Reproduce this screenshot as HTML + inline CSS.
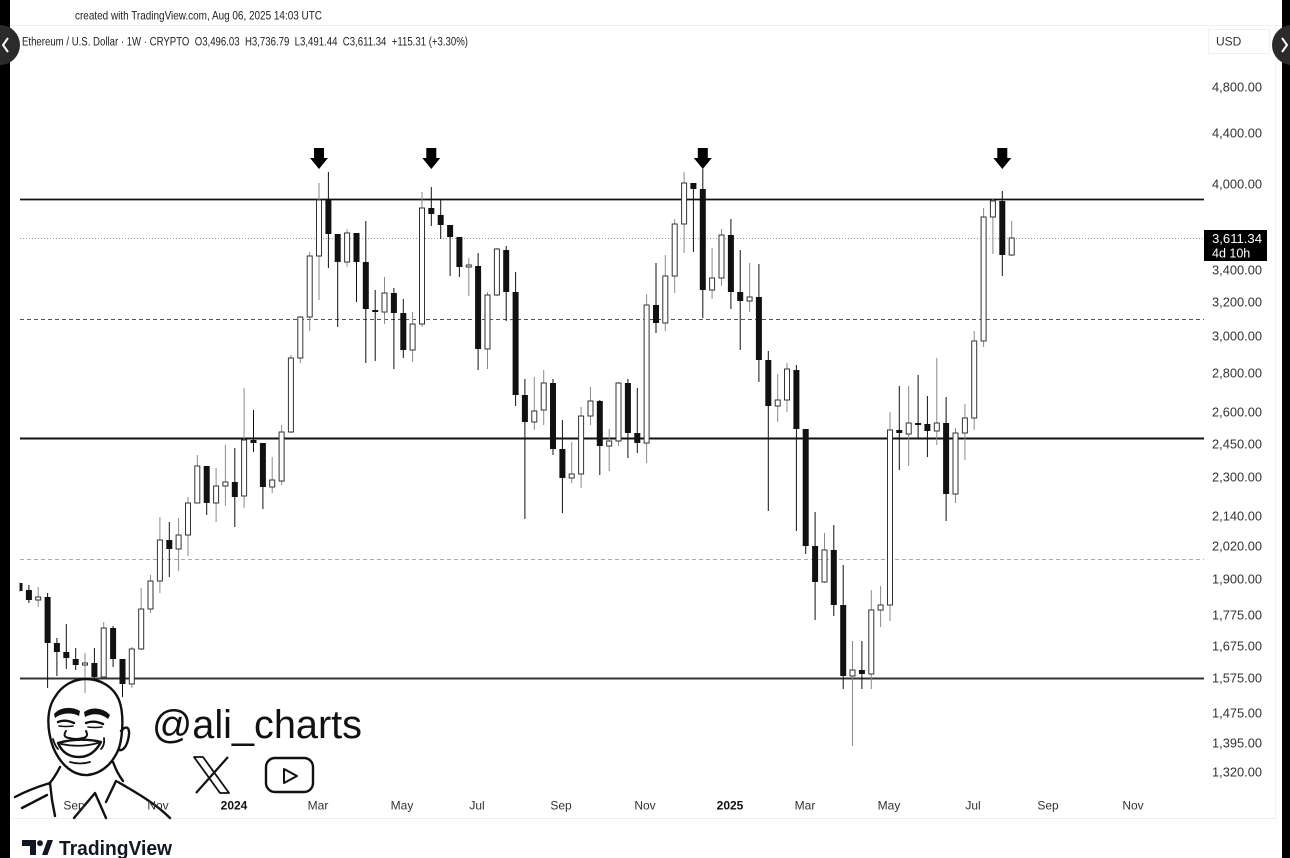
<!DOCTYPE html>
<html><head><meta charset="utf-8"><style>
html,body{margin:0;padding:0;background:#000;}
svg{display:block;}
.t{font-family:"Liberation Sans",Arial,sans-serif;}
.u line{stroke:#8a8a8a;stroke-width:1;}
.d line{stroke:#111;stroke-width:1;}
.u rect{fill:#fff;stroke:#333;stroke-width:1;}
.d rect{fill:#111;}
.f{stroke:#111;stroke-width:2.4;fill:none;stroke-linecap:round;stroke-linejoin:round;}
</style></head><body>
<svg width="1290" height="858" viewBox="0 0 1290 858" xmlns="http://www.w3.org/2000/svg">
<rect x="0" y="0" width="1290" height="858" fill="#000"/>
<rect x="10" y="0" width="1272" height="858" fill="#fff"/>
<line x1="10" y1="25.5" x2="1282" y2="25.5" stroke="#f0f0f0" stroke-width="1"/>
<line x1="10" y1="818.5" x2="1276" y2="818.5" stroke="#f0f0f0" stroke-width="1"/>
<line x1="1275.5" y1="26" x2="1275.5" y2="818" stroke="#f3f3f3" stroke-width="1"/>
<!-- nav circles -->
<circle cx="0" cy="45" r="20" fill="#2b2b2b"/>
<path d="M8 38 L3 45 L8 52" stroke="#fff" stroke-width="2" fill="none"/>
<circle cx="1292" cy="45" r="20" fill="#2b2b2b"/>
<path d="M1282 38 L1287 45 L1282 52" stroke="#fff" stroke-width="2" fill="none"/>

<text class="t" x="75" y="19.5" font-size="12" fill="#222" textLength="247" lengthAdjust="spacingAndGlyphs">created with TradingView.com, Aug 06, 2025 14:03 UTC</text>
<text class="t" x="22" y="45.5" font-size="11.5" fill="#222" textLength="446" lengthAdjust="spacingAndGlyphs" xml:space="preserve">Ethereum / U.S. Dollar · 1W · CRYPTO  O3,496.03  H3,736.79  L3,491.44  C3,611.34  +115.31 (+3.30%)</text>

<rect x="1208.5" y="29.5" width="61" height="24" fill="#fff" stroke="#f0f0f0"/>
<text class="t" x="1216" y="45.5" font-size="12" fill="#333">USD</text>

<!-- horizontal levels -->
<line x1="20" y1="199.5" x2="1204" y2="199.5" stroke="#111" stroke-width="1.8"/>
<line x1="20" y1="238.5" x2="1204" y2="238.5" stroke="#999" stroke-width="1" stroke-dasharray="1 2"/>
<line x1="20" y1="319.5" x2="1204" y2="319.5" stroke="#555" stroke-width="1" stroke-dasharray="4 3"/>
<line x1="20" y1="438.5" x2="1204" y2="438.5" stroke="#111" stroke-width="2"/>
<line x1="20" y1="559.5" x2="1204" y2="559.5" stroke="#aaa" stroke-width="1" stroke-dasharray="4 3"/>
<line x1="20" y1="678.5" x2="1204" y2="678.5" stroke="#333" stroke-width="2"/>

<clipPath id="cp"><rect x="19.7" y="60" width="1185" height="760"/></clipPath>
<g clip-path="url(#cp)">
<g class="d"><line x1="19.5" y1="582" x2="19.5" y2="592"/><rect x="16.5" y="583" width="6" height="8"/></g>
<g class="d"><line x1="28.9" y1="585" x2="28.9" y2="603"/><rect x="25.9" y="590" width="6" height="10"/></g>
<g class="u"><line x1="38.2" y1="587" x2="38.2" y2="607"/><rect x="35.7" y="597" width="5" height="3"/></g>
<g class="d"><line x1="47.6" y1="593" x2="47.6" y2="688"/><rect x="44.6" y="597" width="6" height="46"/></g>
<g class="d"><line x1="56.9" y1="638" x2="56.9" y2="676"/><rect x="53.9" y="643" width="6" height="9"/></g>
<g class="d"><line x1="66.3" y1="624" x2="66.3" y2="669"/><rect x="63.3" y="652" width="6" height="6"/></g>
<g class="d"><line x1="75.7" y1="648" x2="75.7" y2="670"/><rect x="72.7" y="659" width="6" height="6"/></g>
<g class="u"><line x1="85.0" y1="653" x2="85.0" y2="693"/><rect x="82.5" y="663" width="5" height="2"/></g>
<g class="d"><line x1="94.4" y1="648" x2="94.4" y2="678"/><rect x="91.4" y="663" width="6" height="14"/></g>
<g class="u"><line x1="103.7" y1="622" x2="103.7" y2="678"/><rect x="101.2" y="628" width="5" height="49"/></g>
<g class="d"><line x1="113.1" y1="626" x2="113.1" y2="667"/><rect x="110.1" y="628" width="6" height="31"/></g>
<g class="d"><line x1="122.5" y1="659" x2="122.5" y2="697"/><rect x="119.5" y="659" width="6" height="25"/></g>
<g class="u"><line x1="131.8" y1="647" x2="131.8" y2="688"/><rect x="129.3" y="649" width="5" height="35"/></g>
<g class="u"><line x1="141.2" y1="588" x2="141.2" y2="650"/><rect x="138.7" y="609" width="5" height="40"/></g>
<g class="u"><line x1="150.5" y1="575" x2="150.5" y2="613"/><rect x="148" y="581" width="5" height="28"/></g>
<g class="u"><line x1="159.9" y1="517" x2="159.9" y2="593"/><rect x="157.4" y="540" width="5" height="41"/></g>
<g class="d"><line x1="169.3" y1="522" x2="169.3" y2="577"/><rect x="166.3" y="540" width="6" height="9"/></g>
<g class="u"><line x1="178.6" y1="518" x2="178.6" y2="571"/><rect x="176.1" y="535" width="5" height="14"/></g>
<g class="u"><line x1="188.0" y1="497" x2="188.0" y2="556"/><rect x="185.5" y="503" width="5" height="32"/></g>
<g class="u"><line x1="197.3" y1="455" x2="197.3" y2="503"/><rect x="194.8" y="466" width="5" height="37"/></g>
<g class="d"><line x1="206.7" y1="466" x2="206.7" y2="515"/><rect x="203.7" y="466" width="6" height="37"/></g>
<g class="u"><line x1="216.1" y1="468" x2="216.1" y2="522"/><rect x="213.6" y="486" width="5" height="17"/></g>
<g class="u"><line x1="225.4" y1="445" x2="225.4" y2="506"/><rect x="222.9" y="482" width="5" height="4"/></g>
<g class="d"><line x1="234.8" y1="448" x2="234.8" y2="527"/><rect x="231.8" y="482" width="6" height="15"/></g>
<g class="u"><line x1="244.1" y1="388" x2="244.1" y2="508"/><rect x="241.6" y="440" width="5" height="56"/></g>
<g class="d"><line x1="253.5" y1="410" x2="253.5" y2="452"/><rect x="250.5" y="440" width="6" height="3"/></g>
<g class="d"><line x1="262.9" y1="443" x2="262.9" y2="509"/><rect x="259.9" y="443" width="6" height="44"/></g>
<g class="u"><line x1="272.2" y1="457" x2="272.2" y2="493"/><rect x="269.7" y="480" width="5" height="7"/></g>
<g class="u"><line x1="281.6" y1="425" x2="281.6" y2="485"/><rect x="279.1" y="432" width="5" height="49"/></g>
<g class="u"><line x1="290.9" y1="355" x2="290.9" y2="433"/><rect x="288.4" y="358" width="5" height="74"/></g>
<g class="u"><line x1="300.3" y1="316" x2="300.3" y2="363"/><rect x="297.8" y="317" width="5" height="41"/></g>
<g class="u"><line x1="309.7" y1="252" x2="309.7" y2="331"/><rect x="307.2" y="256" width="5" height="61"/></g>
<g class="u"><line x1="319.0" y1="183" x2="319.0" y2="300"/><rect x="316.5" y="200" width="5" height="56"/></g>
<g class="d"><line x1="328.4" y1="172" x2="328.4" y2="268"/><rect x="325.4" y="199" width="6" height="35"/></g>
<g class="d"><line x1="337.7" y1="234" x2="337.7" y2="327"/><rect x="334.7" y="234" width="6" height="28"/></g>
<g class="u"><line x1="347.1" y1="229" x2="347.1" y2="267"/><rect x="344.6" y="233" width="5" height="29"/></g>
<g class="d"><line x1="356.5" y1="233" x2="356.5" y2="302"/><rect x="353.5" y="233" width="6" height="29"/></g>
<g class="d"><line x1="365.8" y1="221" x2="365.8" y2="363"/><rect x="362.8" y="262" width="6" height="47"/></g>
<g class="d"><line x1="375.2" y1="290" x2="375.2" y2="361"/><rect x="372.2" y="310" width="6" height="2"/></g>
<g class="u"><line x1="384.5" y1="277" x2="384.5" y2="324"/><rect x="382" y="293" width="5" height="19"/></g>
<g class="d"><line x1="393.9" y1="288" x2="393.9" y2="369"/><rect x="390.9" y="293" width="6" height="20"/></g>
<g class="d"><line x1="403.3" y1="299" x2="403.3" y2="358"/><rect x="400.3" y="313" width="6" height="37"/></g>
<g class="u"><line x1="412.6" y1="312" x2="412.6" y2="362"/><rect x="410.1" y="324" width="5" height="26"/></g>
<g class="u"><line x1="422.0" y1="192" x2="422.0" y2="327"/><rect x="419.5" y="208" width="5" height="116"/></g>
<g class="d"><line x1="431.3" y1="187" x2="431.3" y2="226"/><rect x="428.3" y="208" width="6" height="6"/></g>
<g class="d"><line x1="440.7" y1="200" x2="440.7" y2="239"/><rect x="437.7" y="215" width="6" height="10"/></g>
<g class="d"><line x1="450.1" y1="225" x2="450.1" y2="276"/><rect x="447.1" y="225" width="6" height="12"/></g>
<g class="d"><line x1="459.4" y1="237" x2="459.4" y2="277"/><rect x="456.4" y="237" width="6" height="30"/></g>
<g class="u"><line x1="468.8" y1="258" x2="468.8" y2="296"/><rect x="466.3" y="265" width="5" height="2"/></g>
<g class="d"><line x1="478.1" y1="253" x2="478.1" y2="370"/><rect x="475.1" y="266" width="6" height="83"/></g>
<g class="u"><line x1="487.5" y1="292" x2="487.5" y2="369"/><rect x="485" y="295" width="5" height="54"/></g>
<g class="u"><line x1="496.9" y1="248" x2="496.9" y2="296"/><rect x="494.4" y="249" width="5" height="46"/></g>
<g class="d"><line x1="506.2" y1="246" x2="506.2" y2="321"/><rect x="503.2" y="250" width="6" height="42"/></g>
<g class="d"><line x1="515.6" y1="272" x2="515.6" y2="406"/><rect x="512.6" y="292" width="6" height="103"/></g>
<g class="d"><line x1="524.9" y1="379" x2="524.9" y2="519"/><rect x="521.9" y="395" width="6" height="27"/></g>
<g class="u"><line x1="534.3" y1="377" x2="534.3" y2="430"/><rect x="531.8" y="411" width="5" height="11"/></g>
<g class="u"><line x1="543.7" y1="370" x2="543.7" y2="425"/><rect x="541.2" y="383" width="5" height="27"/></g>
<g class="d"><line x1="553.0" y1="379" x2="553.0" y2="455"/><rect x="550" y="383" width="6" height="66"/></g>
<g class="d"><line x1="562.4" y1="420" x2="562.4" y2="513"/><rect x="559.4" y="449" width="6" height="29"/></g>
<g class="u"><line x1="571.7" y1="442" x2="571.7" y2="483"/><rect x="569.2" y="474" width="5" height="4"/></g>
<g class="u"><line x1="581.1" y1="407" x2="581.1" y2="488"/><rect x="578.6" y="416" width="5" height="58"/></g>
<g class="u"><line x1="590.5" y1="387" x2="590.5" y2="425"/><rect x="588" y="401" width="5" height="15"/></g>
<g class="d"><line x1="599.8" y1="400" x2="599.8" y2="475"/><rect x="596.8" y="401" width="6" height="45"/></g>
<g class="u"><line x1="609.2" y1="429" x2="609.2" y2="471"/><rect x="606.7" y="441" width="5" height="5"/></g>
<g class="u"><line x1="618.5" y1="382" x2="618.5" y2="446"/><rect x="616" y="383" width="5" height="58"/></g>
<g class="d"><line x1="627.9" y1="379" x2="627.9" y2="458"/><rect x="624.9" y="383" width="6" height="50"/></g>
<g class="d"><line x1="637.3" y1="388" x2="637.3" y2="453"/><rect x="634.3" y="433" width="6" height="10"/></g>
<g class="u"><line x1="646.6" y1="294" x2="646.6" y2="463"/><rect x="644.1" y="305" width="5" height="138"/></g>
<g class="d"><line x1="656.0" y1="263" x2="656.0" y2="333"/><rect x="653" y="305" width="6" height="18"/></g>
<g class="u"><line x1="665.3" y1="255" x2="665.3" y2="331"/><rect x="662.8" y="276" width="5" height="47"/></g>
<g class="u"><line x1="674.7" y1="219" x2="674.7" y2="293"/><rect x="672.2" y="224" width="5" height="52"/></g>
<g class="u"><line x1="684.1" y1="172" x2="684.1" y2="253"/><rect x="681.6" y="183" width="5" height="41"/></g>
<g class="d"><line x1="693.4" y1="183" x2="693.4" y2="252"/><rect x="690.4" y="183" width="6" height="6"/></g>
<g class="d"><line x1="702.8" y1="169" x2="702.8" y2="318"/><rect x="699.8" y="189" width="6" height="101"/></g>
<g class="u"><line x1="712.1" y1="248" x2="712.1" y2="299"/><rect x="709.6" y="278" width="5" height="12"/></g>
<g class="u"><line x1="721.5" y1="229" x2="721.5" y2="286"/><rect x="719" y="235" width="5" height="43"/></g>
<g class="d"><line x1="730.9" y1="219" x2="730.9" y2="309"/><rect x="727.9" y="235" width="6" height="57"/></g>
<g class="d"><line x1="740.2" y1="250" x2="740.2" y2="350"/><rect x="737.2" y="292" width="6" height="9"/></g>
<g class="u"><line x1="749.6" y1="263" x2="749.6" y2="312"/><rect x="747.1" y="297" width="5" height="4"/></g>
<g class="d"><line x1="758.9" y1="264" x2="758.9" y2="382"/><rect x="755.9" y="297" width="6" height="63"/></g>
<g class="d"><line x1="768.3" y1="351" x2="768.3" y2="511"/><rect x="765.3" y="360" width="6" height="46"/></g>
<g class="u"><line x1="777.7" y1="374" x2="777.7" y2="422"/><rect x="775.2" y="400" width="5" height="6"/></g>
<g class="u"><line x1="787.0" y1="363" x2="787.0" y2="412"/><rect x="784.5" y="369" width="5" height="31"/></g>
<g class="d"><line x1="796.4" y1="365" x2="796.4" y2="531"/><rect x="793.4" y="370" width="6" height="59"/></g>
<g class="d"><line x1="805.7" y1="429" x2="805.7" y2="554"/><rect x="802.7" y="429" width="6" height="117"/></g>
<g class="d"><line x1="815.1" y1="512" x2="815.1" y2="620"/><rect x="812.1" y="546" width="6" height="36"/></g>
<g class="u"><line x1="824.5" y1="533" x2="824.5" y2="583"/><rect x="822" y="550" width="5" height="32"/></g>
<g class="d"><line x1="833.8" y1="525" x2="833.8" y2="616"/><rect x="830.8" y="550" width="6" height="55"/></g>
<g class="d"><line x1="843.2" y1="565" x2="843.2" y2="689"/><rect x="840.2" y="605" width="6" height="71"/></g>
<g class="u"><line x1="852.5" y1="641" x2="852.5" y2="746"/><rect x="850" y="670" width="5" height="6"/></g>
<g class="d"><line x1="861.9" y1="641" x2="861.9" y2="689"/><rect x="858.9" y="670" width="6" height="4"/></g>
<g class="u"><line x1="871.3" y1="590" x2="871.3" y2="689"/><rect x="868.8" y="610" width="5" height="64"/></g>
<g class="u"><line x1="880.6" y1="586" x2="880.6" y2="627"/><rect x="878.1" y="605" width="5" height="5"/></g>
<g class="u"><line x1="890.0" y1="412" x2="890.0" y2="621"/><rect x="887.5" y="430" width="5" height="175"/></g>
<g class="d"><line x1="899.3" y1="386" x2="899.3" y2="470"/><rect x="896.3" y="430" width="6" height="3"/></g>
<g class="u"><line x1="908.7" y1="386" x2="908.7" y2="466"/><rect x="906.2" y="423" width="5" height="11"/></g>
<g class="d"><line x1="918.1" y1="375" x2="918.1" y2="438"/><rect x="915.1" y="423" width="6" height="2"/></g>
<g class="d"><line x1="927.4" y1="396" x2="927.4" y2="457"/><rect x="924.4" y="424" width="6" height="7"/></g>
<g class="u"><line x1="936.8" y1="358" x2="936.8" y2="445"/><rect x="934.3" y="423" width="5" height="8"/></g>
<g class="d"><line x1="946.1" y1="397" x2="946.1" y2="521"/><rect x="943.1" y="423" width="6" height="71"/></g>
<g class="u"><line x1="955.5" y1="428" x2="955.5" y2="503"/><rect x="953" y="433" width="5" height="61"/></g>
<g class="u"><line x1="964.9" y1="404" x2="964.9" y2="460"/><rect x="962.4" y="418" width="5" height="15"/></g>
<g class="u"><line x1="974.2" y1="331" x2="974.2" y2="430"/><rect x="971.7" y="341" width="5" height="77"/></g>
<g class="u"><line x1="983.6" y1="208" x2="983.6" y2="347"/><rect x="981.1" y="217" width="5" height="124"/></g>
<g class="u"><line x1="992.9" y1="199" x2="992.9" y2="254"/><rect x="990.4" y="201" width="5" height="16"/></g>
<g class="d"><line x1="1002.3" y1="191" x2="1002.3" y2="276"/><rect x="999.3" y="201" width="6" height="54"/></g>
<g class="u"><line x1="1011.7" y1="221" x2="1011.7" y2="256"/><rect x="1009.2" y="238" width="5" height="17"/></g>
</g>

<!-- arrows -->
<g fill="#000">
<path d="M314 148 H324 V158 H328 L319 169 L310 158 H314 Z"/>
<path d="M426.3 148 H436.3 V158 H440.3 L431.3 169 L422.3 158 H426.3 Z"/>
<path d="M697.8 148 H707.8 V158 H711.8 L702.8 169 L693.8 158 H697.8 Z"/>
<path d="M997.3 148 H1007.3 V158 H1011.3 L1002.3 169 L993.3 158 H997.3 Z"/>
</g>

<!-- price axis -->
<g class="t" font-size="12.5" fill="#333">
<text x="1212" y="91.5" textLength="50" lengthAdjust="spacingAndGlyphs">4,800.00</text>
<text x="1212" y="137.5" textLength="50" lengthAdjust="spacingAndGlyphs">4,400.00</text>
<text x="1212" y="188.5" textLength="50" lengthAdjust="spacingAndGlyphs">4,000.00</text>
<text x="1212" y="274.5" textLength="50" lengthAdjust="spacingAndGlyphs">3,400.00</text>
<text x="1212" y="306.5" textLength="50" lengthAdjust="spacingAndGlyphs">3,200.00</text>
<text x="1212" y="340.5" textLength="50" lengthAdjust="spacingAndGlyphs">3,000.00</text>
<text x="1212" y="377.5" textLength="50" lengthAdjust="spacingAndGlyphs">2,800.00</text>
<text x="1212" y="416.5" textLength="50" lengthAdjust="spacingAndGlyphs">2,600.00</text>
<text x="1212" y="448.5" textLength="50" lengthAdjust="spacingAndGlyphs">2,450.00</text>
<text x="1212" y="481.5" textLength="50" lengthAdjust="spacingAndGlyphs">2,300.00</text>
<text x="1212" y="520.5" textLength="50" lengthAdjust="spacingAndGlyphs">2,140.00</text>
<text x="1212" y="550.5" textLength="50" lengthAdjust="spacingAndGlyphs">2,020.00</text>
<text x="1212" y="583.5" textLength="50" lengthAdjust="spacingAndGlyphs">1,900.00</text>
<text x="1212" y="619.5" textLength="50" lengthAdjust="spacingAndGlyphs">1,775.00</text>
<text x="1212" y="650.5" textLength="50" lengthAdjust="spacingAndGlyphs">1,675.00</text>
<text x="1212" y="682.5" textLength="50" lengthAdjust="spacingAndGlyphs">1,575.00</text>
<text x="1212" y="717.5" textLength="50" lengthAdjust="spacingAndGlyphs">1,475.00</text>
<text x="1212" y="747.5" textLength="50" lengthAdjust="spacingAndGlyphs">1,395.00</text>
<text x="1212" y="776.5" textLength="50" lengthAdjust="spacingAndGlyphs">1,320.00</text>
</g>
<rect x="1204" y="230" width="63" height="31" fill="#000"/>
<text class="t" x="1212" y="243" font-size="12.5" fill="#fff" textLength="50" lengthAdjust="spacingAndGlyphs">3,611.34</text>
<text class="t" x="1212" y="257.5" font-size="12.5" fill="#fff">4d 10h</text>

<!-- watermark face -->
<g class="f">
<path d="M53 747 C47 730 46 710 55 697 C62 685 74 679 86 679 C102 679 114 688 119 700 C124 713 123 735 119 748 C114 761 104 773 88 775 C74 776 61 766 53 747 Z"/>
<path d="M121 731 C127 724 131 728 128 740 C126 748 122 751 119 750"/>
<path d="M58 722 Q65 719 74 723"/>
<path d="M59 726 Q66 727 73 726" stroke-width="1.6"/>
<path d="M86 723 Q94 720 103 724"/>
<path d="M88 727 Q95 728 102 727" stroke-width="1.6"/>
<path d="M66 731 Q62 737 69 738 Q76 740 83 738 Q89 737 86 731" stroke-width="2"/>
<path d="M58 743 Q80 737 101 742 Q93 757 79 757 Q64 757 58 743 Z"/>
<path d="M61 744 Q80 748 98 743" stroke-width="1.8"/>
<path d="M53 739 Q55 746 58 749" stroke-width="1.8"/>
<path d="M104 738 Q105 745 101 749" stroke-width="1.8"/>
<path d="M70 762 Q80 765 90 762" stroke-width="1.8"/>
<path d="M60 767 Q55 777 49 784"/>
<path d="M113 762 Q117 773 123 781"/>
<path d="M15 797 C28 790 40 786 50 783"/>
<path d="M22 808 L47 795"/>
<path d="M50 783 L52 800 L55 816"/>
<path d="M74 818 L95 793 L106 818"/>
<path d="M116 781 L106 802"/>
<path d="M118 782 C135 792 155 803 170 818"/>
</g>
<g fill="#111">
<path d="M54 714 C60 707 72 706 80 711 L79 716 C72 712 61 713 55 718 Z"/>
<path d="M84 712 C92 706 104 708 110 715 L108 719 C101 713 92 713 85 717 Z"/>
</g>
<text class="t" x="152" y="738" font-size="40" fill="#111" textLength="210" lengthAdjust="spacingAndGlyphs">@ali_charts</text>
<g stroke="#111" fill="none" stroke-linejoin="round">
<path d="M194 757 H203 L229 793 H220 Z" stroke-width="1.8"/>
<path d="M228 757 L196 793" stroke-width="2.2"/>
<rect x="266" y="758" width="47" height="34" rx="9" stroke-width="2.4"/>
<path d="M284 769 L284 783 L297 776 Z" stroke-width="2"/>
</g>

<!-- time axis -->
<g class="t" font-size="12" fill="#333" text-anchor="middle">
<text x="74" y="809.5">Sep</text>
<text x="158" y="809.5">Nov</text>
<text x="234" y="809.5" font-weight="bold" fill="#111">2024</text>
<text x="318" y="809.5">Mar</text>
<text x="402" y="809.5">May</text>
<text x="477" y="809.5">Jul</text>
<text x="561" y="809.5">Sep</text>
<text x="645" y="809.5">Nov</text>
<text x="730" y="809.5" font-weight="bold" fill="#111">2025</text>
<text x="805" y="809.5">Mar</text>
<text x="889" y="809.5">May</text>
<text x="973" y="809.5">Jul</text>
<text x="1048" y="809.5">Sep</text>
<text x="1133" y="809.5">Nov</text>
</g>

<!-- TradingView logo -->
<g fill="#131722">
<path d="M22 840 H36 V855 H30 V846 H22 Z"/>
<circle cx="40" cy="843.2" r="2.9"/>
<path d="M42 855 L47.5 840 H53 L47.5 855 Z"/>
</g>
<text class="t" x="59" y="855" font-size="20" font-weight="bold" fill="#131722" textLength="113" lengthAdjust="spacingAndGlyphs">TradingView</text>
</svg>
</body></html>
